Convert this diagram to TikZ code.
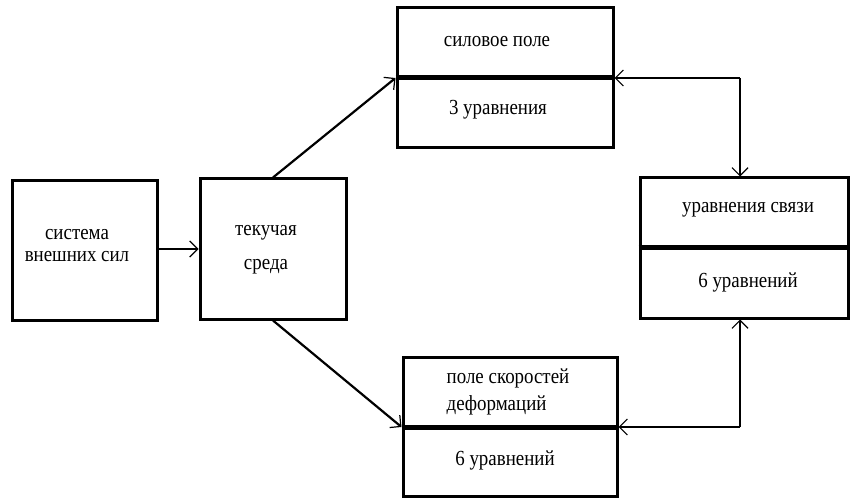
\documentclass[tikz,border=0pt]{standalone}
\usepackage{fontspec}
\setmainfont{Liberation Serif}[FakeStretch=0.88]
\usetikzlibrary{arrows.meta}
\tikzset{
  box/.style={draw, line width=3pt, rectangle, inner sep=0pt},
  divider/.style={line width=5pt},
  conn/.style={line width=2.2pt},
  tip/.style={-{Straight Barb[length=8pt,width=16pt,line width=1.2pt]}},
  lbl/.style={font=\fontsize{21.5}{22}\selectfont, inner sep=0pt, align=center}
}
\begin{document}
\begin{tikzpicture}[x=1pt,y=-1pt]
\useasboundingbox (0,0) rectangle (850,502);
% boxes
\node[box, minimum width=145pt, minimum height=139pt] (b1) at (84.5,250.5) {};
\node[box, minimum width=146pt, minimum height=140pt] (b2) at (273,249) {};
\node[box, minimum width=216pt, minimum height=140pt] (top) at (505,78) {};
\node[box, minimum width=208pt, minimum height=140pt] (right) at (744,248) {};
\node[box, minimum width=214pt, minimum height=139pt] (bot) at (510,427) {};
% dividers
\draw[divider] (top.west) -- (top.east);
\draw[divider] (right.west) -- (right.east);
\draw[divider] (bot.west) -- (bot.east);
% texts
\node[lbl] (t1) at (77,246) {система\\внешних сил};
\node[lbl] (t2) at (266,250) {текучая\\[12pt]среда};
\node[lbl] (t3) at (497,42) {силовое поле};
\node[lbl] (t4) at (498,110) {3 уравнения};
\node[lbl] (t5) at (748,210) {уравнения связи};
\node[lbl] (t6) at (748,282) {6 уравнений};
\node[lbl, align=left] (t7) at (508,392) {поле скоростей\\[5pt]деформаций};
\node[lbl] (t8) at (505,460) {6 уравнений};
% connectors
\draw[conn, tip] (b1.east |- b2.west) -- (b2.west);
\draw[conn, tip] (b2.north) -- (top.west);
\draw[conn, tip] (b2.south) -- (bot.west);
\coordinate (rt) at ([xshift=-4pt]right.north);
\coordinate (rb) at ([xshift=-4pt]right.south);
\draw[conn, tip] (rt |- top.east) -- (top.east);
\draw[conn, tip] (rt |- top.east) -- (rt);
\draw[conn, tip] (rb |- bot.east) -- (bot.east);
\draw[conn, tip] (rb |- bot.east) -- (rb);
\end{tikzpicture}
\end{document}
